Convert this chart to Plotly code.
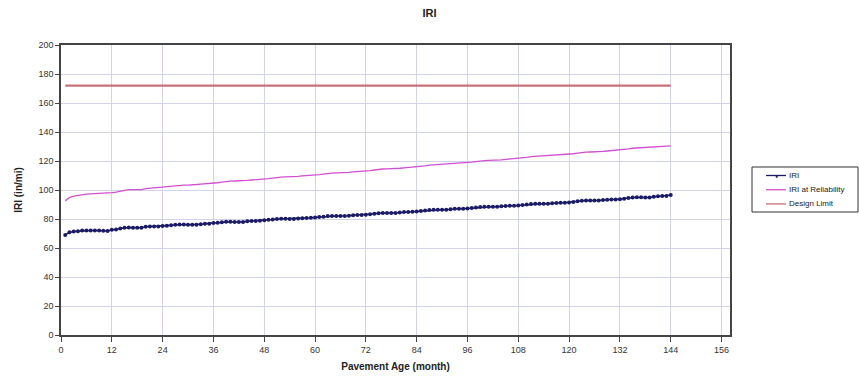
import plotly.graph_objects as go

# Pavement age in months
months = list(range(1, 145))

# Predicted IRI (in/mi), monthly
iri = [
    69.0, 70.8, 71.3, 71.6, 72.0, 72.1, 72.1, 72.0, 72.0, 71.9, 71.8, 72.6,
    72.7, 73.4, 74.0, 74.1, 74.0, 74.0, 73.9, 74.6, 74.8, 74.8, 74.9, 75.1,
    75.4, 75.7, 76.1, 76.2, 76.2, 76.1, 76.1, 76.0, 76.3, 76.8, 76.8, 77.2,
    77.4, 77.8, 78.1, 78.1, 78.0, 78.0, 77.9, 78.5, 78.6, 78.7, 78.8, 79.2,
    79.4, 79.6, 80.0, 80.1, 80.1, 80.0, 80.0, 80.3, 80.6, 80.7, 80.8, 81.1,
    81.4, 81.6, 82.0, 82.1, 82.1, 82.0, 82.0, 82.3, 82.6, 82.7, 82.8, 83.0,
    83.3, 83.6, 84.0, 84.2, 84.2, 84.1, 84.1, 84.5, 84.8, 84.9, 85.0, 85.2,
    85.5, 85.8, 86.2, 86.4, 86.4, 86.3, 86.3, 86.7, 87.0, 87.1, 87.1, 87.3,
    87.6, 87.9, 88.3, 88.5, 88.5, 88.4, 88.4, 88.8, 89.0, 89.1, 89.1, 89.3,
    89.7, 90.0, 90.4, 90.6, 90.6, 90.5, 90.5, 90.9, 91.1, 91.2, 91.2, 91.4,
    91.8, 92.2, 92.6, 92.8, 92.8, 92.7, 92.7, 93.1, 93.3, 93.4, 93.4, 93.6,
    94.0, 94.4, 94.8, 95.0, 95.0, 94.9, 94.9, 95.4, 95.7, 95.8, 95.9, 96.5,
]

# IRI at design reliability (in/mi), monthly
iri_reliability = [
    92.5, 94.8, 95.8, 96.4, 96.8, 97.1, 97.3, 97.4, 97.5, 97.5, 97.6, 98.2,
    98.5, 99.2, 99.9, 100.2, 100.3, 100.3, 100.3, 100.9, 101.2, 101.3, 101.4, 101.8,
    102.2, 102.6, 103.1, 103.3, 103.4, 103.4, 103.4, 103.8, 104.1, 104.2, 104.3, 104.6,
    105.0, 105.4, 105.9, 106.1, 106.2, 106.2, 106.2, 106.6, 106.9, 107.0, 107.1, 107.4,
    107.8, 108.2, 108.7, 108.9, 109.0, 109.0, 109.0, 109.4, 109.7, 109.8, 109.9, 110.2,
    110.6, 111.0, 111.5, 111.7, 111.8, 111.8, 111.8, 112.2, 112.5, 112.6, 112.7, 113.0,
    113.4, 113.8, 114.3, 114.5, 114.6, 114.6, 114.6, 115.0, 115.3, 115.5, 115.6, 115.9,
    116.3, 116.7, 117.2, 117.4, 117.5, 117.5, 117.5, 117.9, 118.2, 118.4, 118.5, 118.8,
    119.2, 119.6, 120.1, 120.3, 120.4, 120.4, 120.4, 120.8, 121.1, 121.3, 121.4, 121.7,
    122.1, 122.5, 123.0, 123.2, 123.3, 123.3, 123.3, 123.7, 124.0, 124.2, 124.3, 124.6,
    125.0, 125.4, 125.9, 126.1, 126.2, 126.2, 126.2, 126.6, 126.9, 127.1, 127.2, 127.5,
    127.9, 128.3, 128.8, 129.0, 129.1, 129.1, 129.1, 129.5, 129.8, 130.0, 130.1, 130.5,
]

# Design limit (in/mi)
design_limit = 172.0
design_limit_series = [design_limit] * len(months)

series_names = ["IRI", "IRI at Reliability", "Design Limit"]
series_colors = ["#1a1a66", "#d24fd2", "#c8707a"]

x_ticks = list(range(0, 157, 12))
y_ticks = list(range(0, 201, 20))

FONT = "Liberation Sans, Arial, sans-serif"
W, H = 859, 377
M = dict(l=61, r=129, t=45, b=42)


def px_to_paper(px, py):
    """Convert a pixel position on the page to paper coordinates."""
    pw = W - M["l"] - M["r"]
    ph = H - M["t"] - M["b"]
    return (px - M["l"]) / pw, (H - M["b"] - py) / ph


fig = go.Figure()

fig.add_trace(go.Scatter(
    x=months, y=iri, name=series_names[0], mode="lines+markers",
    line=dict(color=series_colors[0], width=1.5),
    marker=dict(color=series_colors[0], size=4, symbol="circle"),
))
fig.add_trace(go.Scatter(
    x=months, y=iri_reliability, name=series_names[1], mode="lines",
    line=dict(color=series_colors[1], width=1.3),
))
fig.add_trace(go.Scatter(
    x=months, y=design_limit_series, name=series_names[2], mode="lines",
    line=dict(color=series_colors[2], width=2.2),
))

# Boxed legend on the right, drawn with shapes and annotations
shapes = []
annotations = []
x0, y0 = px_to_paper(752, 167)
x1, y1 = px_to_paper(858, 212)
shapes.append(dict(type="rect", xref="paper", yref="paper", x0=x0, y0=y0, x1=x1, y1=y1,
                   line=dict(color="#333333", width=1), fillcolor="white", layer="above"))
for i, (name, color) in enumerate(zip(series_names, series_colors)):
    yy = 175.5 + i * 14.2
    lx0, ly = px_to_paper(766, yy)
    lx1, _ = px_to_paper(786, yy)
    shapes.append(dict(type="line", xref="paper", yref="paper", x0=lx0, x1=lx1, y0=ly, y1=ly,
                       line=dict(color=color, width=1.3), layer="above"))
    if i == 0:
        mx, _ = px_to_paper(776, yy)
        annotations.append(dict(xref="paper", yref="paper", x=mx, y=ly, text="●",
                                showarrow=False, font=dict(size=5, color=color),
                                xanchor="center", yanchor="middle"))
    tx, _ = px_to_paper(787, yy)
    annotations.append(dict(xref="paper", yref="paper", x=tx, y=ly, text=name,
                            showarrow=False, xanchor="left", yanchor="middle",
                            font=dict(family=FONT, size=8, color="#222222")))

fig.update_layout(
    width=W, height=H,
    margin=M,
    paper_bgcolor="white", plot_bgcolor="white",
    font=dict(family=FONT, size=9, color="#222222"),
    title=dict(text="<b>IRI</b>", x=0.5, xanchor="center", y=0.965, yanchor="middle",
               font=dict(family=FONT, size=11, color="#222222")),
    showlegend=False,
    shapes=shapes,
    annotations=annotations,
)

fig.update_xaxes(
    range=[0, 158], tickmode="array", tickvals=x_ticks,
    automargin=False,
    showgrid=True, gridcolor="#d2d2ea", gridwidth=1,
    showline=True, linecolor="#444444", linewidth=1.5, mirror=True,
    ticks="outside", ticklen=5, tickcolor="#444444",
    zeroline=False,
    tickfont=dict(family=FONT, size=9, color="#333333"),
    title=dict(text="<b>Pavement Age (month)</b>", standoff=9,
               font=dict(family=FONT, size=10, color="#222222")),
)
fig.update_yaxes(
    range=[0, 200], tickmode="array", tickvals=y_ticks,
    automargin=False,
    showgrid=True, gridcolor="#d2d2ea", gridwidth=1,
    showline=True, linecolor="#444444", linewidth=1.5, mirror=True,
    ticks="outside", ticklen=4, tickcolor="#444444",
    zeroline=False,
    tickfont=dict(family=FONT, size=9, color="#333333"),
    title=dict(text="<b>IRI (in/mi)</b>", standoff=14,
               font=dict(family=FONT, size=10, color="#222222")),
)

fig.write_html("out.html")
